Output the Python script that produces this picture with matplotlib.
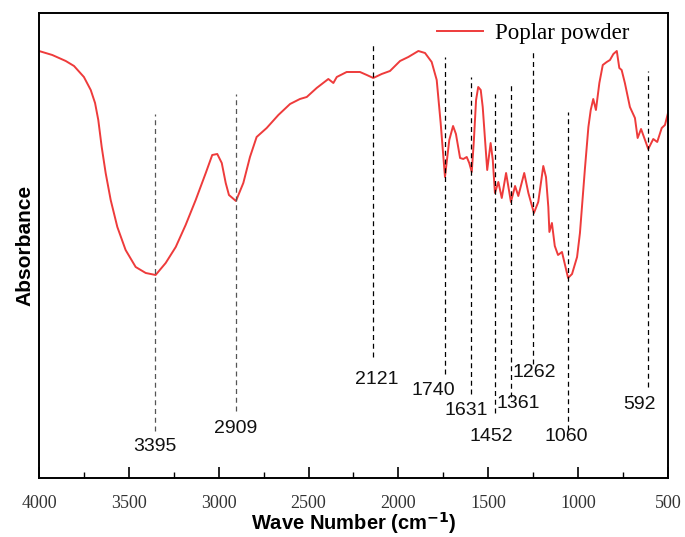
import matplotlib
matplotlib.use("Agg")
import matplotlib.pyplot as plt
from matplotlib.ticker import MultipleLocator

# Spectrum (wave number, absorbance in arbitrary units)
wavenumber = [4000, 3926, 3851, 3805, 3750, 3712, 3688, 3670, 3651, 3629, 3601, 3564,
              3518, 3462, 3406, 3351, 3295, 3239, 3184, 3128, 3072, 3036, 3008, 2983,
              2961, 2943, 2904, 2863, 2826, 2789, 2733, 2668, 2603, 2548, 2510, 2455,
              2390, 2362, 2343, 2288, 2214, 2176, 2140, 2093, 2047, 1991, 1945, 1889,
              1852, 1815, 1787, 1765, 1741, 1717, 1696, 1680, 1657, 1639, 1620, 1606,
              1592, 1580, 1568, 1556, 1542, 1531, 1518, 1506, 1487, 1475, 1463, 1444,
              1425, 1401, 1374, 1351, 1333, 1300, 1277, 1246, 1222, 1194, 1179, 1166,
              1160, 1146, 1130, 1112, 1090, 1056, 1034, 1006, 990, 962, 943, 930,
              916, 901, 882, 863, 841, 823, 804, 785, 771, 758, 740, 712, 684, 669,
              650, 634, 610, 582, 560, 535, 517, 500]
absorbance = [427, 423, 417, 412, 401, 388, 375, 358, 331, 305, 278, 251,
              228, 211, 205, 203, 215, 231, 253, 278, 305, 323, 324, 315,
              295, 283, 277, 295, 321, 341, 350, 363, 374, 379, 381, 390,
              399, 395, 401, 406, 406, 403, 400, 404, 407, 417, 421, 427,
              425, 416, 398, 355, 301, 338, 352, 344, 320, 319, 321, 315,
              306, 338, 378, 391, 388, 371, 338, 308, 335, 318, 285, 296,
              280, 305, 276, 292, 282, 305, 285, 265, 276, 312, 301, 271,
              246, 255, 232, 223, 226, 200, 204, 221, 245, 310, 351, 368,
              379, 368, 395, 413, 416, 418, 424, 427, 410, 408, 395, 371, 360, 340,
              349, 341, 329, 339, 336, 350, 353, 365]

# Marked peaks
peak_labels = ["3395", "2909", "2121", "1740", "1631", "1452", "1361", "1262", "1060", "592"]
peak_lines = [3355, 2904, 2141, 1741, 1596, 1463, 1374, 1251, 1056, 612]
line_top = [364, 384, 436, 421, 401, 384, 396, 429, 366, 407]
line_bottom = [47, 67, 121, 104, 84, 65, 81, 114, 48, 91]
label_x = [3355, 2904, 2119, 1808, 1624, 1485, 1335, 1246, 1068, 656]
label_y = [31, 49, 98, 87, 67, 41, 74, 105, 41, 73]
line_colors = ["#555555", "#555555", "black", "black", "black", "black", "black",
               "black", "black", "black"]

fig = plt.figure(figsize=(6.85, 5.37), dpi=100)
ax = fig.add_axes([0.0569, 0.1099, 0.9183, 0.8659])

ax.plot(wavenumber, absorbance, color="#EE3B3B", lw=1.4, label="Poplar powder")

for x, t, b, c in zip(peak_lines, line_top, line_bottom, line_colors):
    ax.vlines(x, b, t, colors=c, linestyles=(0, (4, 3)), lw=0.9)

for lab, x, y in zip(peak_labels, label_x, label_y):
    ax.text(x, y, lab, ha="center", va="center", fontsize=14,
            family="Liberation Sans", color="#111111")

ax.set_xlim(4000, 500)
ax.set_ylim(0, 465)
ax.xaxis.set_major_locator(MultipleLocator(500))
ax.xaxis.set_minor_locator(MultipleLocator(250))
ax.tick_params(axis="x", which="major", direction="in", length=8, width=1.2,
               top=False, pad=12)
ax.tick_params(axis="x", which="minor", direction="in", length=4, width=1.0, top=False)
ax.set_yticks([])
for lbl in ax.get_xticklabels():
    lbl.set_family("Liberation Serif")
    lbl.set_fontsize(13)
    lbl.set_color("#333333")
for s in ax.spines.values():
    s.set_linewidth(1.4)

xl = ax.set_xlabel("Wave Number (cm$^{\\mathbf{-1}}$)", fontsize=14.5, fontweight="bold",
                   family="Liberation Sans")
xl.set_va("center")
ax.xaxis.set_label_coords(0.5, -0.097)
yl = ax.set_ylabel("Absorbance", fontsize=15, fontweight="bold", family="Liberation Sans")
yl.set_va("center")
ax.yaxis.set_label_coords(-0.022, 0.5)

leg = ax.legend(loc="upper right", frameon=False,
                prop={"family": "Liberation Serif", "size": 16.5},
                handlelength=2.0, handletextpad=0.5, borderaxespad=0.2,
                bbox_to_anchor=(0.96, 1.008))

fig.savefig("out.png", dpi=100)
